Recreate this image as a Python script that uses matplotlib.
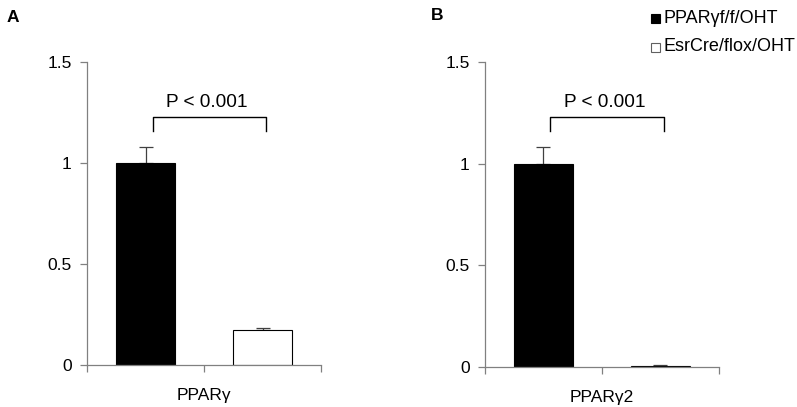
import matplotlib
matplotlib.use("Agg")
import matplotlib.pyplot as plt
from matplotlib.patches import Rectangle

plt.rcParams['font.family'] = ['Liberation Sans', 'DejaVu Sans']

groups = ['PPARγf/f/OHT', 'EsrCre/flox/OHT']
panels = ['A', 'B']
genes = ['PPARγ', 'PPARγ2']
means = [[1.0, 0.175], [1.0, 0.003]]
errs = [[0.08, 0.01], [0.08, 0.006]]
pvals = ['P < 0.001', 'P < 0.001']
yticks = [0, 0.5, 1, 1.5]
ytick_labels = ['0', '0.5', '1', '1.5']

axis_col = '#808080'
bar_pos = [0.25, 0.75]

fig = plt.figure(figsize=(7.97, 4.07), dpi=100)
rects = [[0.1092, 0.1032, 0.2936, 0.7445], [0.6085, 0.0983, 0.2936, 0.7494]]

for k, rect in enumerate(rects):
    ax = fig.add_axes(rect)
    ax.bar(bar_pos, means[k], width=0.25, color=['black', 'white'],
           edgecolor='black', linewidth=0.8, zorder=2)
    # upper error bars only
    ax.errorbar(bar_pos, means[k], yerr=[[0, 0], errs[k]], fmt='none',
                ecolor='#404040', elinewidth=0.9, capsize=5, capthick=0.9, zorder=1)
    ax.set_xlim(0, 1)
    ax.set_ylim(0, 1.5)
    ax.set_yticks(yticks)
    ax.set_yticklabels(ytick_labels, fontsize=12.5)
    ax.set_xticks([0, 0.5, 1])
    ax.set_xticklabels([])
    ax.tick_params(axis='y', direction='out', length=5, color=axis_col, width=0.9, pad=6)
    ax.tick_params(axis='x', direction='out', length=5, color=axis_col, width=0.9)
    for s in ['top', 'right']:
        ax.spines[s].set_visible(False)
    for s in ['left', 'bottom']:
        ax.spines[s].set_color(axis_col)
        ax.spines[s].set_linewidth(0.9)
    ax.text(0.5, -0.1, genes[k], transform=ax.transAxes, ha='center', va='center',
            fontsize=12.5)
    # significance bracket
    x0, x1 = 0.28, 0.765
    ax.plot([x0, x0, x1, x1], [1.16, 1.23, 1.23, 1.16], color='black', lw=1.0,
            clip_on=False)
    ax.text(0.51, 1.30, pvals[k], ha='center', va='center', fontsize=13.7)
    fig.text([0.008, 0.541][k], [0.958, 0.962][k], panels[k], fontsize=12.5,
             fontweight='bold', ha='left', va='center')

# legend
leg_x = 0.817
for i, (g, y) in enumerate(zip(groups, [0.955, 0.885])):
    fig.patches.append(Rectangle((leg_x, y - 0.012), 0.0105, 0.022,
                                 transform=fig.transFigure,
                                 facecolor=['black', 'white'][i],
                                 edgecolor=['black', '#606060'][i], lw=0.8))
    fig.text(leg_x + 0.015, y, g, fontsize=13, ha='left', va='center')

fig.savefig('out.png', dpi=100)
